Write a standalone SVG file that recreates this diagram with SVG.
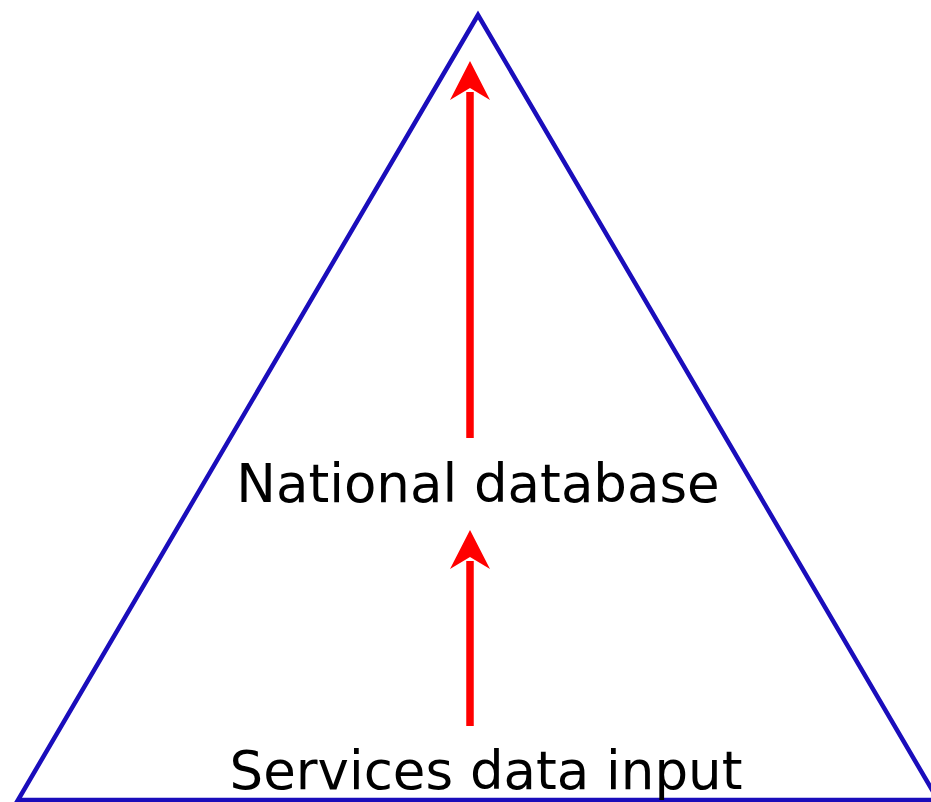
<svg xmlns="http://www.w3.org/2000/svg" width="931" height="802" viewBox="0 0 931 802">
  <style>
    .frame { fill: none; stroke: #1a0dbb; stroke-width: 4.5; stroke-linejoin: miter; }
    .flow { stroke: #ff0000; stroke-width: 7.5; fill: none; }
    .head { fill: #ff0000; }
    .label { font-family: "DejaVu Sans", Verdana, sans-serif; font-size: 53px; fill: #000; text-anchor: middle; }
  </style>
  <rect width="931" height="802" fill="#ffffff"/>

  <g id="pyramid">
    <polygon class="frame" points="478,15 18,800 938,800"/>
  </g>

  <g id="national-database">
    <text class="label" x="478" y="502">National database</text>
  </g>

  <g id="services-data-input">
    <text class="label" x="486" y="789">Services data input</text>
  </g>

  <g id="connectors">
    <line class="flow" x1="470" y1="438" x2="470" y2="92"/>
    <polygon class="head" points="470,61 490,100 470,88 450,100"/>
    <line class="flow" x1="470" y1="726" x2="470" y2="561"/>
    <polygon class="head" points="470,530 490,569 470,557 450,569"/>
  </g>
</svg>
